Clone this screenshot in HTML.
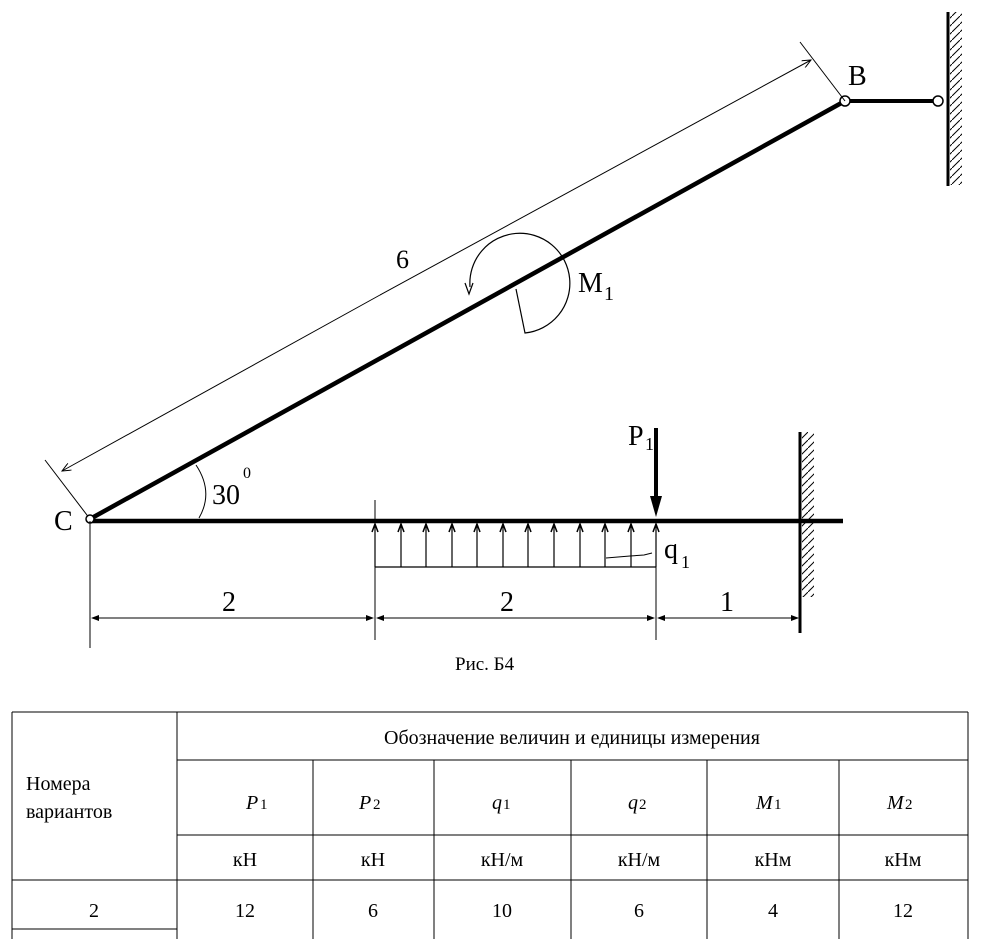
<!DOCTYPE html>
<html><head><meta charset="utf-8"><style>
body{margin:0;background:#fff;}
svg{display:block;}
text{font-family:"Liberation Serif",serif;fill:#000;}
</style></head><body>
<svg width="985" height="939" viewBox="0 0 985 939" xmlns="http://www.w3.org/2000/svg">
<defs>
<pattern id="h" width="8" height="8" patternUnits="userSpaceOnUse"><line x1="0" y1="8" x2="8" y2="0" stroke="#000" stroke-width="1"/></pattern>
<marker id="a" markerWidth="10" markerHeight="8" refX="9" refY="4" orient="auto" markerUnits="userSpaceOnUse"><path d="M0,0 L9,4 L0,8" fill="none" stroke="#000" stroke-width="1"/></marker>
<marker id="ua" markerWidth="8" markerHeight="10" refX="4" refY="1" orient="0" markerUnits="userSpaceOnUse"><path d="M1,9 L4,1 L7,9" fill="none" stroke="#000" stroke-width="1.5"/></marker>
</defs>
<!-- wall top right -->
<rect x="950" y="12" width="12" height="173" fill="url(#h)"/>
<line x1="948" y1="12" x2="948" y2="186" stroke="#000" stroke-width="3"/>
<line x1="845" y1="101" x2="938" y2="101" stroke="#000" stroke-width="4"/>
<circle cx="938" cy="101" r="5" fill="#fff" stroke="#000" stroke-width="1.5"/>
<!-- inclined bar -->
<line x1="90" y1="519" x2="845" y2="101" stroke="#000" stroke-width="4.5"/>
<circle cx="845" cy="101" r="5" fill="#fff" stroke="#000" stroke-width="1.5"/>
<text x="848" y="85" font-size="28">B</text>
<!-- dimension 6 -->
<line x1="45" y1="460" x2="90" y2="519" stroke="#000" stroke-width="1"/>
<line x1="800" y1="42" x2="845" y2="101" stroke="#000" stroke-width="1"/>
<line x1="380" y1="295" x2="62" y2="471" stroke="#000" stroke-width="1" marker-end="url(#a)"/>
<line x1="380" y1="295" x2="811" y2="60" stroke="#000" stroke-width="1" marker-end="url(#a)"/>
<text x="396" y="268" font-size="26">6</text>
<!-- M1 -->
<path d="M470,287 A50,50 0 1 1 525,333 L516,289" fill="none" stroke="#000" stroke-width="1.2"/>
<path d="M465,283 L469,294 L473,283" fill="none" stroke="#000" stroke-width="1.2"/>
<text x="578" y="292" font-size="28">M</text><text x="604" y="300" font-size="20">1</text>
<!-- horizontal beam -->
<line x1="90" y1="521" x2="843" y2="521" stroke="#000" stroke-width="4.5"/>
<circle cx="90" cy="519" r="4" fill="#fff" stroke="#000" stroke-width="1.5"/>
<text x="54" y="530" font-size="28">C</text>
<!-- angle -->
<path d="M196,465 Q214,492 199,518" fill="none" stroke="#000" stroke-width="1"/>
<text x="212" y="504" font-size="28">30</text><text x="243" y="478" font-size="16">0</text>
<!-- wall bottom -->
<rect x="802" y="432" width="12" height="165" fill="url(#h)"/>
<line x1="800" y1="432" x2="800" y2="633" stroke="#000" stroke-width="3"/>
<!-- distributed load -->
<line x1="375" y1="567" x2="656" y2="567" stroke="#000" stroke-width="1.2"/>
<g stroke="#000" stroke-width="1.2" marker-end="url(#ua)">
<line x1="375" y1="567" x2="375" y2="524"/><line x1="401" y1="567" x2="401" y2="524"/><line x1="426" y1="567" x2="426" y2="524"/><line x1="452" y1="567" x2="452" y2="524"/><line x1="477" y1="567" x2="477" y2="524"/><line x1="503" y1="567" x2="503" y2="524"/><line x1="528" y1="567" x2="528" y2="524"/><line x1="554" y1="567" x2="554" y2="524"/><line x1="580" y1="567" x2="580" y2="524"/><line x1="605" y1="567" x2="605" y2="524"/><line x1="631" y1="567" x2="631" y2="524"/><line x1="656" y1="567" x2="656" y2="524"/>
</g>
<path d="M606,558 L630,556 L644,555 L652,553" fill="none" stroke="#000" stroke-width="1"/>
<text x="664" y="558" font-size="28">q</text><text x="681" y="568" font-size="18">1</text>
<!-- P1 -->
<line x1="656" y1="428" x2="656" y2="500" stroke="#000" stroke-width="4"/>
<path d="M650,496 L656,517 L662,496 Z" fill="#000"/>
<text x="628" y="445" font-size="28">P</text><text x="645" y="450" font-size="18">1</text>
<!-- dimension lines -->
<g stroke="#000" stroke-width="1">
<line x1="90" y1="521" x2="90" y2="648"/>
<line x1="375" y1="500" x2="375" y2="640"/>
<line x1="656" y1="521" x2="656" y2="640"/>
<line x1="95" y1="618" x2="370" y2="618"/>
<line x1="380" y1="618" x2="651" y2="618"/>
<line x1="661" y1="618" x2="798" y2="618"/>
</g>
<g fill="#000">
<path d="M91,618 L99,615 L99,621Z"/><path d="M374,618 L366,615 L366,621Z"/>
<path d="M376,618 L384,615 L384,621Z"/><path d="M655,618 L647,615 L647,621Z"/>
<path d="M657,618 L665,615 L665,621Z"/><path d="M799,618 L791,615 L791,621Z"/>
</g>
<text x="222" y="611" font-size="28">2</text>
<text x="500" y="611" font-size="28">2</text>
<text x="720" y="611" font-size="28">1</text>
<text x="455" y="670" font-size="19">Рис. Б4</text>
<!-- table -->
<g stroke="#000" stroke-width="1">
<line x1="12" y1="712" x2="968" y2="712"/>
<line x1="177" y1="760" x2="968" y2="760"/>
<line x1="177" y1="835" x2="968" y2="835"/>
<line x1="12" y1="880" x2="968" y2="880"/>
<line x1="12" y1="929" x2="177" y2="929"/>
<line x1="12" y1="712" x2="12" y2="939"/>
<line x1="177" y1="712" x2="177" y2="939"/>
<line x1="968" y1="712" x2="968" y2="939"/>
<line x1="313" y1="760" x2="313" y2="939"/>
<line x1="434" y1="760" x2="434" y2="939"/>
<line x1="571" y1="760" x2="571" y2="939"/>
<line x1="707" y1="760" x2="707" y2="939"/>
<line x1="839" y1="760" x2="839" y2="939"/>
</g>
<g font-size="20">
<text x="572" y="744" text-anchor="middle">Обозначение величин и единицы измерения</text>
<text x="26" y="790">Номера</text>
<text x="26" y="818">вариантов</text>
<g font-style="italic">
<text x="246" y="809">P</text><text x="260" y="809" font-size="15" font-style="normal">1</text>
<text x="359" y="809">P</text><text x="373" y="809" font-size="15" font-style="normal">2</text>
<text x="492" y="809">q</text><text x="503" y="809" font-size="15" font-style="normal">1</text>
<text x="628" y="809">q</text><text x="639" y="809" font-size="15" font-style="normal">2</text>
<text x="756" y="809">M</text><text x="774" y="809" font-size="15" font-style="normal">1</text>
<text x="887" y="809">M</text><text x="905" y="809" font-size="15" font-style="normal">2</text>
</g>
<text x="245" y="866" text-anchor="middle">кН</text>
<text x="373" y="866" text-anchor="middle">кН</text>
<text x="502" y="866" text-anchor="middle">кН/м</text>
<text x="639" y="866" text-anchor="middle">кН/м</text>
<text x="773" y="866" text-anchor="middle">кНм</text>
<text x="903" y="866" text-anchor="middle">кНм</text>
<text x="94" y="917" text-anchor="middle">2</text>
<text x="245" y="917" text-anchor="middle">12</text>
<text x="373" y="917" text-anchor="middle">6</text>
<text x="502" y="917" text-anchor="middle">10</text>
<text x="639" y="917" text-anchor="middle">6</text>
<text x="773" y="917" text-anchor="middle">4</text>
<text x="903" y="917" text-anchor="middle">12</text>
</g>
</svg>
</body></html>
